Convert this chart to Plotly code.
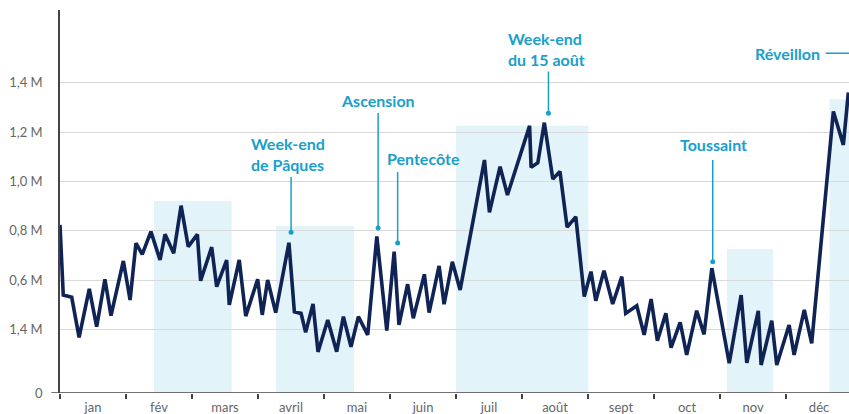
import plotly.graph_objects as go

# weekly-ish traffic series, x = day of year, y = millions
days = [0, 1.5, 5.4, 8.8, 13.5, 16.9, 20.7, 23.5, 29.2, 32.3,
        35.0, 37.9, 41.9, 46.1, 48.4, 52.4, 55.8, 59.1, 63.3, 64.8,
        69.9, 72.2, 76.8, 78.0, 82.6, 85.6, 91.1, 93.2, 95.7, 99.4,
        105.5, 108.0, 111.1, 113.2, 116.6, 118.9, 123.4, 127.5, 130.6, 134.1,
        137.5, 141.8, 146.0, 150.6, 154.0, 156.2, 160.2, 162.8, 167.9, 170.1,
        174.7, 177.0, 180.8, 184.4, 195.6, 197.9, 202.8, 206.2, 216.4, 217.1,
        220.2, 223.2, 227.1, 230.4, 233.7, 237.7, 241.6, 244.7, 246.9, 250.7,
        254.7, 258.9, 260.7, 265.8, 269.2, 272.4, 275.3, 279.2, 281.6, 285.8,
        288.8, 293.4, 296.8, 300.4, 308.4, 313.9, 316.5, 321.8, 323.1, 328.0,
        330.3, 336.0, 338.3, 343.0, 346.4, 356.4, 361.0, 363.3]
values = [0.824, 0.540, 0.531, 0.369, 0.565, 0.412, 0.604, 0.457, 0.678, 0.520,
          0.750, 0.705, 0.797, 0.682, 0.786, 0.709, 0.902, 0.736, 0.786, 0.598,
          0.734, 0.574, 0.682, 0.500, 0.682, 0.455, 0.604, 0.460, 0.601, 0.469,
          0.752, 0.472, 0.466, 0.389, 0.504, 0.310, 0.439, 0.311, 0.453, 0.331,
          0.453, 0.379, 0.777, 0.396, 0.716, 0.419, 0.584, 0.446, 0.624, 0.469,
          0.658, 0.503, 0.675, 0.561, 1.087, 0.875, 1.060, 0.945, 1.225, 1.057,
          1.076, 1.238, 1.010, 1.040, 0.815, 0.857, 0.534, 0.635, 0.517, 0.639,
          0.504, 0.615, 0.466, 0.497, 0.379, 0.524, 0.355, 0.466, 0.327, 0.430,
          0.298, 0.477, 0.381, 0.649, 0.264, 0.540, 0.266, 0.476, 0.257, 0.436,
          0.257, 0.419, 0.298, 0.480, 0.345, 1.283, 1.148, 1.360]

# school holiday periods (shaded)
holiday_start = [43.3, 99.6, 182.5, 307.4, 354.6]
holiday_end = [79.1, 135.5, 243.5, 328.6, 366.0]
holiday_top = [0.921, 0.820, 1.225, 0.727, 1.333]

# events: dot position and top of the leader line
event_day = [106.5, 146.6, 155.6, 225.1, 300.8]
event_dot = [0.794, 0.812, 0.751, 1.276, 0.675]
event_line_top = [1.018, 1.277, 1.038, 1.445, 1.087]

# label text and where it sits
label_text = ["Week-end<br>de Pâques", "Ascension", "Pentecôte",
              "Week-end<br>du 15 août", "Toussaint", "Réveillon"]
label_day = [87.6, 146.6, 167.3, 206.0, 301.0, 350.6]
label_value = [1.113, 1.326, 1.091, 1.538, 1.148, 1.519]
label_anchor = ["left", "center", "center", "left", "center", "right"]

months = ["jan", "fév", "mars", "avril", "mai", "juin",
          "juil", "août", "sept", "oct", "nov", "déc"]
month_len = 365 / 12

y_bottom = 0.1437
y_ticks = [y_bottom, 0.4, 0.6, 0.8, 1.0, 1.2, 1.4]
y_labels = ["0", "1,4 M", "0,6 M", "0,8 M", "1,0 M", "1,2 M", "1,4 M"]

navy = "#0f2354"
cyan = "#18a0cb"
shade = "#e3f3fa"

fig = go.Figure()

for x0, x1, top in zip(holiday_start, holiday_end, holiday_top):
    fig.add_shape(type="rect", xref="x", yref="y", x0=x0, x1=x1, y0=y_bottom, y1=top,
                  fillcolor=shade, line_width=0, layer="below")

fig.add_trace(go.Scatter(x=days, y=values, mode="lines",
                         line=dict(color=navy, width=3.6), hoverinfo="skip"))

for d, v0, v1 in zip(event_day, event_dot, event_line_top):
    fig.add_shape(type="line", xref="x", yref="y", x0=d, x1=d, y0=v0, y1=v1,
                  line=dict(color=cyan, width=1.5))

fig.add_trace(go.Scatter(x=event_day, y=event_dot, mode="markers",
                         marker=dict(color=cyan, size=5), hoverinfo="skip"))

for txt, d, v, anc in zip(label_text, label_day, label_value, label_anchor):
    fig.add_annotation(x=d, y=v, xref="x", yref="y", text=txt, showarrow=False,
                       xanchor=anc, yanchor="middle", align="left", borderpad=0,
                       font=dict(family="Lato", size=16, color=cyan, weight="bold"))

# Réveillon line running to the edge
fig.add_shape(type="line", xref="x", yref="y", x0=352.9, x1=366, y0=1.519, y1=1.519,
              line=dict(color=cyan, width=1.5))

# baseline stub to the left of the y axis
fig.add_shape(type="line", xref="paper", yref="y", x0=-0.011, x1=1, y0=y_bottom, y1=y_bottom,
              line=dict(color="#444", width=1.5))

fig.update_layout(
    width=849, height=414,
    margin=dict(l=60, r=0, t=10, b=21),
    paper_bgcolor="white", plot_bgcolor="white",
    showlegend=False,
    xaxis=dict(range=[0, 363.6], showgrid=False, zeroline=False, automargin=False,
               tickvals=[month_len * (i + 0.5) for i in range(12)], ticktext=months,
               ticks="", ticklabelstandoff=5,
               tickfont=dict(family="Lato", size=13, color="#666"),
               minor=dict(tickvals=[month_len * i for i in range(12)], ticks="outside",
                          ticklen=5, tickwidth=1.5, tickcolor="#444", showgrid=False)),
    yaxis=dict(range=[y_bottom, 1.694], tickvals=y_ticks, ticktext=y_labels,
               showgrid=True, gridcolor="#d9d9d9", gridwidth=1, zeroline=False,
               showline=True, linecolor="#444", linewidth=1.5, automargin=False,
               ticks="", ticklabelstandoff=13,
               tickfont=dict(family="Lato", size=13, color="#666")),
)

# the page body has a default margin; remove it so the chart sits at the corner
fig.write_html("out.html", config={"displayModeBar": False},
               post_script="document.body.style.margin='0';")
